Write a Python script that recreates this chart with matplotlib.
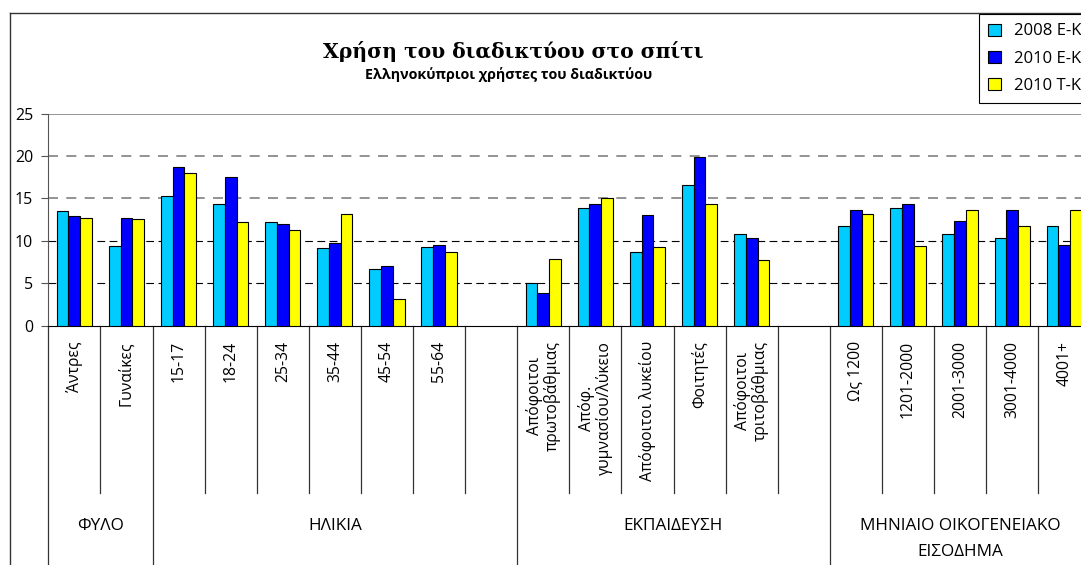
import numpy as np
import matplotlib.pyplot as plt
from matplotlib.patches import Patch
from matplotlib.lines import Line2D

# categories along the x axis (blank slots are the gaps between groups)
categories = ["Άντρες", "Γυναίκες",
              "15-17", "18-24", "25-34", "35-44", "45-54", "55-64", "",
              "Απόφοιτοι\nπρωτοβάθμιας", "Απόφ.\nγυμνασίου/λύκειο", "Απόφοιτοι λυκείου",
              "Φοιτητές", "Απόφοιτοι\nτριτοβάθμιας", "",
              "Ως 1200", "1201-2000", "2001-3000", "3001-4000", "4001+"]
groups = ["ΦΥΛΟ", "ΗΛΙΚΙΑ", "ΕΚΠΑΙΔΕΥΣΗ", "ΜΗΝΙΑΙΟ ΟΙΚΟΓΕΝΕΙΑΚΟ\nΕΙΣΟΔΗΜΑ"]
group_sizes = [2, 7, 6, 5]

series_names = ["2008 Ε-Κ", "2010 Ε-Κ", "2010 Τ-Κ"]
ek_2008 = [13.5, 9.4, 15.3, 14.4, 12.2, 9.2, 6.7, 9.3, np.nan,
           5.0, 13.9, 8.7, 16.6, 10.8, np.nan, 11.7, 13.9, 10.8, 10.3, 11.7]
ek_2010 = [12.9, 12.7, 18.7, 17.5, 12.0, 9.8, 7.0, 9.5, np.nan,
           3.9, 14.4, 13.0, 19.9, 10.3, np.nan, 13.7, 14.4, 12.4, 13.7, 9.5]
tk_2010 = [12.7, 12.6, 18.0, 12.2, 11.3, 13.2, 3.1, 8.7, np.nan,
           7.9, 15.1, 9.3, 14.4, 7.8, np.nan, 13.2, 9.4, 13.7, 11.7, 13.7]
colors = ["#00CCFF", "#0000FF", "#FFFF00"]

plt.rcParams['font.family'] = ['Open Sans', 'DejaVu Sans']

W, H = 1081, 565
fig = plt.figure(figsize=(W / 100, H / 100), dpi=100)

# plot area in pixels
x0, y_top, y_bot, cat_w = 48.3, 113.7, 325.7, 52.1
ax = fig.add_axes([x0 / W, 1 - y_bot / H, len(categories) * cat_w / W, (y_bot - y_top) / H])

x = np.arange(len(categories))
bw = 0.225
for k, vals in enumerate([ek_2008, ek_2010, tk_2010]):
    ax.bar(x + (k - 1) * bw, vals, width=bw, color=colors[k],
           edgecolor="black", linewidth=0.8, zorder=3)

ax.set_xlim(-0.5, len(categories) - 0.5)
ax.set_ylim(0, 25)
ax.set_yticks(range(0, 26, 5))

# gridlines
for v in [5, 10]:
    ax.axhline(v, color="black", lw=0.8, dashes=(7, 4), zorder=1)
for v in [15, 20]:
    ax.axhline(v, color="#808080", lw=1.2, dashes=(6, 5), zorder=1)
ax.axhline(25, color="#808080", lw=1.2, zorder=1)

for s in ["top", "right"]:
    ax.spines[s].set_visible(False)
ax.spines["left"].set_color("#555555")
ax.spines["bottom"].set_color("black")

ax.tick_params(axis="y", length=5, width=0.8, pad=6, labelsize=11.5, color="#555555")
ax.set_xticks(x)
ax.set_xticklabels(categories, rotation=90, fontsize=11.3, multialignment="center",
                   linespacing=1.1)
ax.tick_params(axis="x", length=0, pad=11)

# separators in the category area
trans = ax.get_xaxis_transform()
def yfrac(py):
    return (y_bot - py) / (y_bot - y_top)

bounds = np.cumsum([0] + group_sizes) - 0.5
for b in np.arange(-0.5, len(categories)):
    if b in bounds:
        ax.plot([b, b], [0, yfrac(H + 5)], transform=trans, color="#333333", lw=0.9, clip_on=False)
    else:
        ax.plot([b, b], [0, yfrac(492.7)], transform=trans, color="#333333", lw=0.9, clip_on=False)

for g, n0, n1 in zip(groups, bounds[:-1], bounds[1:]):
    ax.text((n0 + n1) / 2, yfrac(518), g, transform=trans, ha="center", va="top",
            fontsize=12.3, linespacing=1.85)

# outer chart frame
fig.add_artist(Line2D([10 / W, 10 / W], [0, 1 - 13 / H], color="#333333", lw=1))
fig.add_artist(Line2D([10 / W, 1], [1 - 13 / H, 1 - 13 / H], color="#333333", lw=1))

fig.text(513 / W, 1 - 52 / H, "Χρήση του διαδικτύου στο σπίτι", ha="center", va="center",
         fontsize=14.6, fontweight="bold", family="DejaVu Serif")
fig.text(509 / W, 1 - 75 / H, "Ελληνοκύπριοι χρήστες του διαδικτύου", ha="center", va="center",
         fontsize=10.3, fontweight="bold")

handles = [Patch(facecolor=c, edgecolor="black", linewidth=0.8) for c in colors]
leg = fig.legend(handles, series_names, loc="upper left",
                 bbox_to_anchor=(979.3 / W, 1 - 14.3 / H), fontsize=12,
                 frameon=True, fancybox=False, edgecolor="black", framealpha=1,
                 handlelength=0.75, handleheight=0.75, handletextpad=0.8,
                 labelspacing=0.68, borderpad=0.55, borderaxespad=0)
leg.get_frame().set_linewidth(0.8)

fig.savefig("out.png", dpi=100)
